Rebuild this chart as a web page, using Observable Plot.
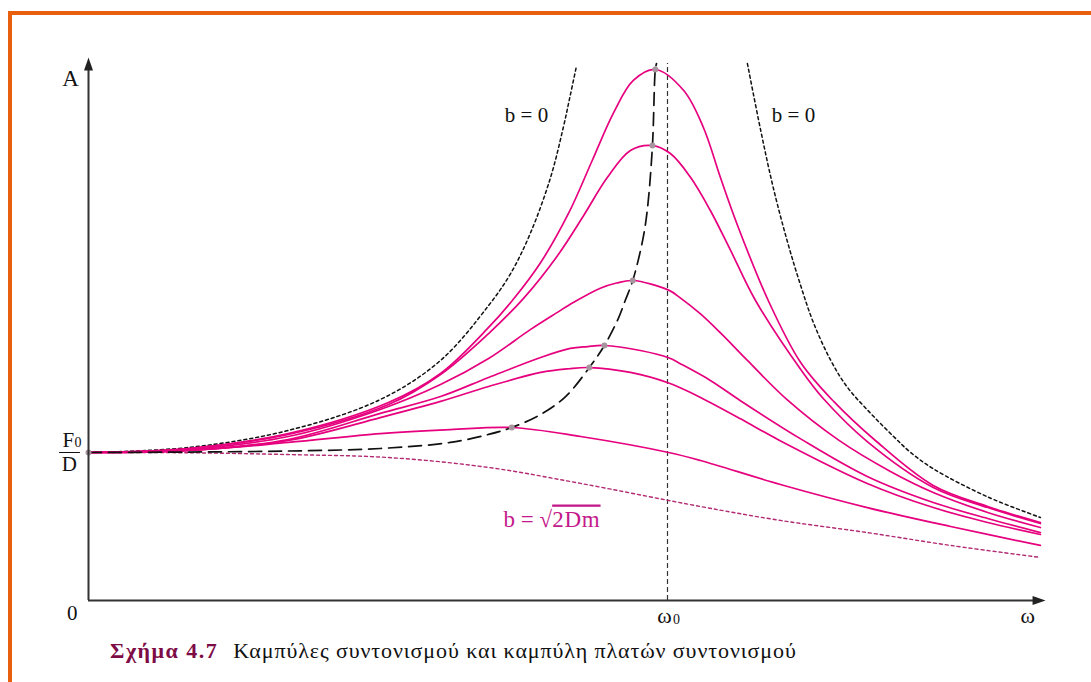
<!DOCTYPE html>
<html><head><meta charset="utf-8">
<script src="https://cdn.jsdelivr.net/npm/d3@7"></script>
<script src="https://cdn.jsdelivr.net/npm/@observablehq/plot@0.6"></script>
<style>
html,body{margin:0;padding:0;background:#fff;}
#wrap{position:relative;width:1091px;height:682px;overflow:hidden;}
#frame{position:absolute;left:8px;top:11px;right:-10px;bottom:-10px;border-top:4px solid #e8600e;border-left:4px solid #e8600e;}
#chart{position:absolute;left:0;top:0;}
#caption{position:absolute;left:110px;top:638px;font-family:"Liberation Serif","DejaVu Serif",serif;font-size:22px;white-space:nowrap;color:#111;letter-spacing:0.9px;}
#caption b{color:#7d0b46;margin-right:15px;letter-spacing:1.5px;}
</style></head><body>
<div id="wrap"><div id="frame"></div><div id="chart"></div>
<div id="caption"><b>Σχήμα 4.7</b>Καμπύλες συντονισμού και καμπύλη πλατών συντονισμού</div></div>
<script>
// ω in units of ω0, A in units of F0/D
const omega0 = 1;
const axisTop = 3.669, axisRight = 1.653, omegaLineTop = 3.628;

const c1W = [0, 0.173, 0.345, 0.518, 0.608, 0.691, 0.732, 0.781, 0.829, 0.870, 0.907, 0.941, 0.979, 1.028, 1.062, 1.092, 1.121, 1.174, 1.230, 1.287, 1.359, 1.459, 1.553, 1.644];
const c1A = [1.000, 1.027, 1.128, 1.338, 1.534, 1.845, 2.027, 2.284, 2.615, 2.973, 3.297, 3.514, 3.588, 3.446, 3.196, 2.851, 2.534, 2.027, 1.608, 1.345, 1.081, 0.777, 0.635, 0.527];

const c2W = [0, 0.173, 0.345, 0.518, 0.608, 0.691, 0.751, 0.810, 0.855, 0.896, 0.936, 0.974, 1.005, 1.040, 1.074, 1.109, 1.152, 1.235, 1.269, 1.345, 1.459, 1.553, 1.644];
const c2A = [1.000, 1.027, 1.122, 1.324, 1.527, 1.804, 2.040, 2.330, 2.600, 2.858, 3.041, 3.074, 3.020, 2.858, 2.635, 2.365, 2.027, 1.534, 1.365, 1.074, 0.764, 0.628, 0.520];

const c3W = [0, 0.173, 0.345, 0.504, 0.608, 0.691, 0.763, 0.807, 0.838, 0.884, 0.912, 0.940, 1.002, 1.022, 1.057, 1.092, 1.138, 1.207, 1.295, 1.385, 1.459, 1.553, 1.644];
const c3A = [1.000, 1.020, 1.108, 1.291, 1.459, 1.635, 1.830, 1.940, 2.015, 2.110, 2.145, 2.162, 2.097, 2.045, 1.936, 1.806, 1.622, 1.355, 1.085, 0.872, 0.730, 0.595, 0.493];

const c4W = [0, 0.173, 0.345, 0.504, 0.608, 0.691, 0.781, 0.832, 0.862, 0.891, 0.953, 1.002, 1.022, 1.074, 1.126, 1.230, 1.345, 1.459, 1.553, 1.644];
const c4A = [1.000, 1.014, 1.088, 1.264, 1.378, 1.507, 1.642, 1.703, 1.716, 1.723, 1.689, 1.640, 1.600, 1.487, 1.350, 1.092, 0.838, 0.662, 0.554, 0.459];

const c5W = [0, 0.173, 0.345, 0.504, 0.608, 0.691, 0.781, 0.830, 0.865, 0.936, 1.002, 1.022, 1.057, 1.126, 1.192, 1.345, 1.459, 1.553, 1.644];
const c5A = [1.000, 1.014, 1.081, 1.236, 1.345, 1.446, 1.541, 1.566, 1.574, 1.541, 1.470, 1.437, 1.372, 1.228, 1.085, 0.791, 0.628, 0.527, 0.446];

const c6W = [0, 0.173, 0.345, 0.504, 0.625, 0.731, 0.850, 1.002, 1.057, 1.195, 1.345, 1.489, 1.644];
const c6A = [1.000, 1.014, 1.068, 1.128, 1.155, 1.169, 1.108, 1.000, 0.946, 0.784, 0.628, 0.500, 0.372];

// critical damping b = sqrt(2Dm)
const critW = [0, 0.173, 0.345, 0.518, 0.691, 0.850, 1.057, 1.195, 1.345, 1.489, 1.644];
const critA = [1.000, 0.998, 0.986, 0.966, 0.899, 0.791, 0.635, 0.541, 0.459, 0.372, 0.291];

// undamped b = 0, two branches
const freeLW = [0, 0.173, 0.345, 0.504, 0.608, 0.691, 0.729, 0.763, 0.798, 0.820, 0.832, 0.843];
const freeLA = [1.000, 1.034, 1.149, 1.358, 1.622, 1.993, 2.209, 2.480, 2.858, 3.196, 3.412, 3.615];
const freeRW = [1.138, 1.161, 1.183, 1.207, 1.230, 1.252, 1.282, 1.311, 1.351, 1.390, 1.420, 1.459, 1.553, 1.644];
const freeRA = [3.628, 3.176, 2.784, 2.426, 2.128, 1.878, 1.622, 1.439, 1.264, 1.110, 1.000, 0.890, 0.700, 0.561];

// curve of resonance amplitudes (through the maxima)
const ampW = [0, 0.173, 0.345, 0.504, 0.625, 0.691, 0.731, 0.781, 0.824, 0.865, 0.891, 0.915, 0.927, 0.940, 0.957, 0.965, 0.974, 0.979, 0.981];
const ampA = [1.000, 1.003, 1.010, 1.027, 1.068, 1.122, 1.169, 1.257, 1.378, 1.574, 1.723, 1.905, 2.027, 2.162, 2.432, 2.635, 3.074, 3.588, 3.628];

const textLabels = [
  {t: "A", w: -0.031, a: 3.473, size: 23},
  {t: "0", w: -0.028, a: -0.132, size: 21},
  {t: "ω", w: 1.622, a: -0.155, size: 22},
  {t: "ω", w: 0.995, a: -0.155, size: 22},
  {t: "F", w: -0.035, a: 1.034, size: 21},
  {t: "D", w: -0.033, a: 0.872, size: 21},
  {t: "b = 0", w: 0.7565, a: 3.236, size: 21},
  {t: "b = 0", w: 1.2176, a: 3.236, size: 21}
];
const subLabels = [
  {t: "0", w: 1.0155, a: -0.162},
  {t: "0", w: -0.0181, a: 1.034}
];
const fracBar = {a: 1, w1: -0.050, w2: -0.014};
const dampLabel = [{t: "b = √2Dm", w: 0.7168, a: 0.5}];

const rows = (W, A, id) => W.map((w, i) => ({id, w, a: A[i]}));
const resonance = [
  rows(c1W, c1A, "c1"), rows(c2W, c2A, "c2"), rows(c3W, c3A, "c3"),
  rows(c4W, c4A, "c4"), rows(c5W, c5A, "c5"), rows(c6W, c6A, "c6")
];
const peaks = [{w: ampW[0], a: ampA[0]}].concat(resonance.map(s => s[d3.maxIndex(s, d => d.a)]));

const serif = "'Liberation Serif', 'DejaVu Serif', serif";
const arrowUp = {draw(ctx) { ctx.moveTo(0, 0); ctx.lineTo(4.5, 13); ctx.lineTo(-4.5, 13); ctx.closePath(); }};
const arrowRight = {draw(ctx) { ctx.moveTo(0, 0); ctx.lineTo(-13, -4.5); ctx.lineTo(-13, 4.5); ctx.closePath(); }};
const smooth = "catmull-rom";

const chart = Plot.plot({
  width: 1091,
  height: 636,
  style: {fontFamily: serif, background: "transparent", overflow: "visible"},
  x: {domain: [0, 1.7], range: [88, 88 + 579 * 1.7], axis: null},
  y: {domain: [-0.3, 4], range: [600 + 0.3 * 148, 600 - 4 * 148], axis: null},
  marks: [
    Plot.ruleX([omega0], {y1: 0, y2: omegaLineTop, stroke: "#333", strokeWidth: 1.2, strokeDasharray: "5 3"}),
    Plot.line(rows(freeLW, freeLA, "L"), {x: "w", y: "a", stroke: "#111", strokeWidth: 1.5, strokeDasharray: "3 3", curve: smooth}),
    Plot.line(rows(freeRW, freeRA, "R"), {x: "w", y: "a", stroke: "#111", strokeWidth: 1.5, strokeDasharray: "3 3", curve: smooth}),
    Plot.line(rows(critW, critA, "crit"), {x: "w", y: "a", stroke: "#b32a72", strokeWidth: 1.4, strokeDasharray: "3 3", curve: smooth}),
    Plot.line(resonance.flat(), {x: "w", y: "a", z: "id", stroke: "#e6007e", strokeWidth: 1.7, curve: smooth}),
    Plot.line(rows(ampW, ampA, "amp"), {x: "w", y: "a", stroke: "#111", strokeWidth: 1.7, strokeDasharray: "13 7", curve: smooth}),
    Plot.dot(peaks, {x: "w", y: "a", r: 3, fill: "#a8949f", stroke: "none"}),
    Plot.ruleX([0], {y1: 0, y2: axisTop - 0.07, stroke: "#333", strokeWidth: 2}),
    Plot.ruleY([0], {x1: 0, x2: axisRight - 0.018, stroke: "#333", strokeWidth: 2}),
    Plot.dot([{w: 0, a: axisTop}], {x: "w", y: "a", symbol: arrowUp, fill: "#222", stroke: "none"}),
    Plot.dot([{w: axisRight, a: 0}], {x: "w", y: "a", symbol: arrowRight, fill: "#222", stroke: "none"}),
    Plot.text(textLabels, {x: "w", y: "a", text: "t", fontSize: d => d.size, fontFamily: serif, fill: "#111", textAnchor: "middle", lineAnchor: "bottom"}),
    Plot.text(subLabels, {x: "w", y: "a", text: "t", fontSize: 14, fontFamily: serif, fill: "#111", textAnchor: "middle", lineAnchor: "bottom"}),
    Plot.ruleY([fracBar], {y: "a", x1: "w1", x2: "w2", stroke: "#111", strokeWidth: 1}),
    Plot.text(dampLabel, {x: "w", y: "a", text: "t", fontSize: 23, fontFamily: serif, fill: "#c4198a", textAnchor: "start", lineAnchor: "bottom"})
  ]
});

d3.select(chart).selectAll("text").filter(function() { return this.textContent === "b = √2Dm"; }).each(function() {
  const el = d3.select(this);
  el.text("b = √");
  el.append("tspan").text("2Dm").style("text-decoration", "overline").style("letter-spacing", "0.8px");
});

document.getElementById("chart").appendChild(chart);
</script></body></html>
